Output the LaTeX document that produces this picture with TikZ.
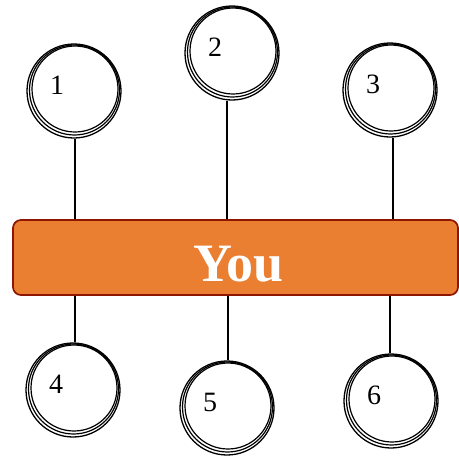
\documentclass[tikz,border=0pt]{standalone}
\usepackage{fontspec}
\setmainfont{Liberation Serif}
\usepackage{xcolor}
\usetikzlibrary{positioning, calc}

\definecolor{youorange}{HTML}{EB7F31}
\definecolor{youedge}{HTML}{8E1500}

\tikzset{
    ring/.style={circle, draw, line width=1.3pt, minimum size=94pt, inner sep=0pt},
    num/.style={font=\fontsize{28}{28}\selectfont, inner sep=0pt},
    youbox/.style={rectangle, rounded corners=8pt, fill=youorange, draw=youedge,
        line width=1.7pt, minimum width=445pt, minimum height=75pt},
    youtext/.style={text=white, font=\fontsize{54}{54}\selectfont\bfseries, inner sep=0pt},
    link/.style={line width=1.3pt}
}

\begin{document}
\begin{tikzpicture}[x=1pt, y=-1pt]
\useasboundingbox (0,0) rectangle (459,456);

% the centre bar
\node[youbox] (you) at (235.5, 257.5) {};
\node[youtext] (youlbl) at (238.5, 264) {You};

% circles: number / centre x / centre y
\foreach \i/\cx/\cy in {1/74/91, 2/232/53, 3/390/90, 4/73/390, 5/227/408, 6/391/401} {
    \node[ring] (c\i) at (\cx, \cy) {};
    % hand drawn look
    \draw[line width=1.2pt] ($(c\i)+(0.5,-1)$) circle (45pt);
    \draw[line width=1.2pt] ($(c\i)+(1,-2)$) circle (43pt);
    \node[num] (n\i) at ($(c\i)+(-17,-6)$) {\i};
}

% links to the bar
\foreach \i/\dx in {1/1, 2/-5, 3/3} {
    \draw[link] ([xshift=\dx pt]c\i.south) -- ([xshift=\dx pt]c\i.south |- you.north);
}
\foreach \i/\dx in {4/2, 5/1, 6/-1} {
    \draw[link] ([xshift=\dx pt]c\i.north) -- ([xshift=\dx pt]c\i.north |- you.south);
}
\end{tikzpicture}
\end{document}
